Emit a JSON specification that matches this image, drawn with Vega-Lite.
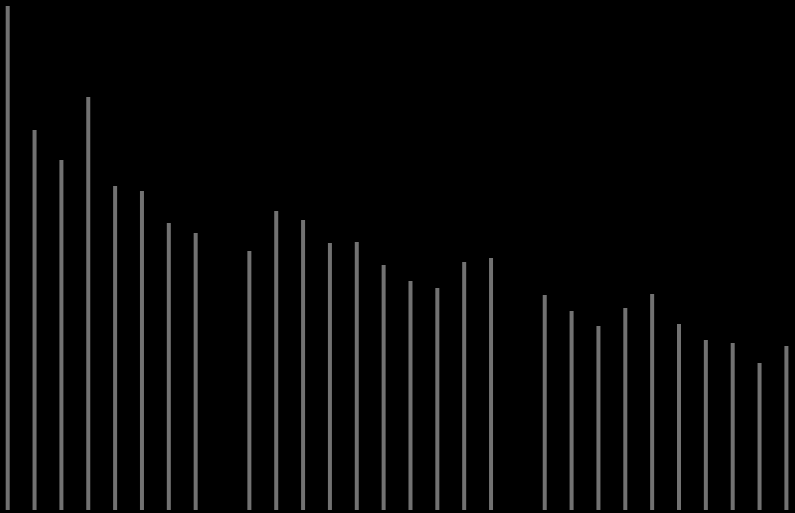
{
  "$schema": "https://vega.github.io/schema/vega-lite/v6.json",
  "width": 795,
  "height": 513,
  "autosize": {"type": "fit", "contains": "padding"},
  "padding": 0,
  "background": "#000000",
  "config": {"view": {"stroke": null}},
  "data": {
    "values": [
      {"slot": 0, "value": 504},
      {"slot": 1, "value": 380},
      {"slot": 2, "value": 350},
      {"slot": 3, "value": 413},
      {"slot": 4, "value": 324},
      {"slot": 5, "value": 319},
      {"slot": 6, "value": 287},
      {"slot": 7, "value": 277},
      {"slot": 9, "value": 259},
      {"slot": 10, "value": 299},
      {"slot": 11, "value": 290},
      {"slot": 12, "value": 267},
      {"slot": 13, "value": 268},
      {"slot": 14, "value": 245},
      {"slot": 15, "value": 229},
      {"slot": 16, "value": 222},
      {"slot": 17, "value": 248},
      {"slot": 18, "value": 252},
      {"slot": 20, "value": 215},
      {"slot": 21, "value": 199},
      {"slot": 22, "value": 184},
      {"slot": 23, "value": 202},
      {"slot": 24, "value": 216},
      {"slot": 25, "value": 186},
      {"slot": 26, "value": 170},
      {"slot": 27, "value": 167},
      {"slot": 28, "value": 147},
      {"slot": 29, "value": 164}
    ]
  },
  "mark": {"type": "bar", "size": 4, "color": "#727272"},
  "encoding": {
    "x": {
      "field": "slot",
      "type": "quantitative",
      "scale": {"domain": [-0.287, 29.32], "nice": false, "zero": false, "padding": 0},
      "axis": null
    },
    "y": {
      "field": "value",
      "type": "quantitative",
      "scale": {"domain": [-3, 510], "nice": false},
      "axis": null
    }
  }
}
